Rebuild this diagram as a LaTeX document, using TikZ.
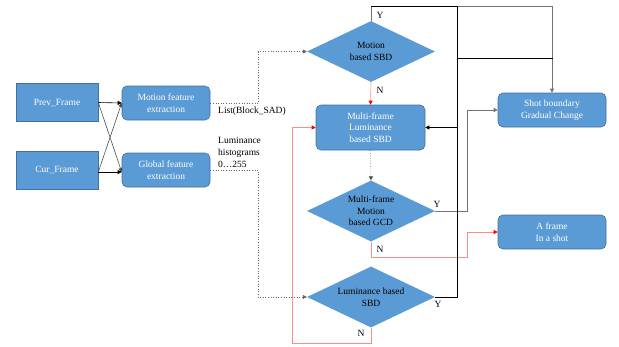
\documentclass[tikz,border=0pt]{standalone}
\usepackage{fontspec}
\setmainfont{Liberation Serif}
\usetikzlibrary{shapes.geometric,arrows.meta}
\definecolor{boxblue}{HTML}{5B9BD5}
\definecolor{boxedge}{HTML}{41719C}
\definecolor{pinkline}{HTML}{FF8A8A}
\begin{document}
\begin{tikzpicture}[x=1pt,y=-1pt,
  every node/.style={font=\fontsize{9.5}{11.5}\selectfont},
  sqbox/.style={draw=boxedge,fill=boxblue,text=white,minimum width=82pt,minimum height=38pt,inner sep=1pt,line width=0.6pt},
  rbox/.style={draw=boxedge,fill=boxblue,text=white,rounded corners=5pt,align=center,inner sep=1pt,line width=0.6pt},
  dia/.style={diamond,fill=boxblue,text=black,align=center,inner sep=0pt,minimum width=128pt,minimum height=61pt,aspect=2.1},
  lab/.style={inner sep=0pt,text=black},
  blk/.style={draw=black,line width=0.6pt},
  gry/.style={draw=black!55,line width=0.6pt},
  dots/.style={draw=black!60,dotted,line width=0.6pt},
  pnk/.style={draw=pinkline,line width=0.6pt},
  tip/.style={-{Triangle[length=4pt,width=4pt]}},
  rtip/.style={-{Triangle[length=4pt,width=4pt,color=red]}}
]
\useasboundingbox (0,0) rectangle (619,346);

% nodes
\node[sqbox] (prev) at (57,102.5) {Prev\_Frame};
\node[sqbox] (cur) at (57,170) {Cur\_Frame};
\node[rbox,minimum width=88pt,minimum height=34pt] (mfe) at (166,103) {Motion feature\\extraction};
\node[rbox,minimum width=88pt,minimum height=34pt] (gfe) at (166,170) {Global feature\\extraction};
\node[dia] (msbd) at (371,51.5) {Motion\\based SBD};
\node[rbox,minimum width=109pt,minimum height=45pt] (mfl) at (370.5,127.5) {Multi-frame\\Luminance\\based SBD};
\node[dia] (mgcd) at (371,211) {Multi-frame\\Motion\\based GCD};
\node[dia] (lsbd) at (371,297) {Luminance based\\SBD};
\node[rbox,minimum width=108pt,minimum height=34pt] (shot) at (552,110) {Shot boundary\\Gradual Change};
\node[rbox,minimum width=108pt,minimum height=34pt] (afr) at (552,232) {A frame\\In a shot};

% input crossings
\draw[blk,tip] (prev.east) -- (mfe.west);
\draw[blk,tip,draw=black!70] (prev.east) -- ([yshift=-2pt]gfe.west);
\draw[blk,tip,draw=black!70] ([yshift=-2pt]cur.east) -- (mfe.west);
\draw[blk,tip] ([yshift=-2pt]cur.east) -- ([yshift=-2pt]gfe.west);

% dotted feature lines
\draw[dots,tip] (mfe.east) -- (258,103) |- (msbd.west);
\draw[dots,tip] (gfe.east) -- (258,170) |- (lsbd.west);
\node[lab,anchor=west] (lbsad) at (218,111) {List(Block\_SAD)};
\node[lab,anchor=north west,align=left,font=\fontsize{9.5}{12}\selectfont] (lhist) at (218,137.5) {Luminance\\histograms\\0…255};

% motion SBD
\draw[gry,tip] (msbd.north) -- (371,6) -| (shot.north);
\draw[pnk,rtip] (msbd.south) -- (mfl.north);
\node[lab] (y1) at (380,15) {Y};
\node[lab] (n1) at (380,90) {N};

% multi-frame luminance to GCD
\draw[dots,tip,draw=black!70] (mfl.south) -- (mgcd.north);

% GCD
\draw[gry,tip] (mgcd.east) -- (467,211) |- (shot.west);
\draw[pnk,rtip] (mgcd.south) -- (371,257) -- (467,257) |- (afr.west);
\node[lab] (y2) at (437,204) {Y};
\node[lab] (n2) at (380,249) {N};

% luminance SBD
\draw[blk] (lsbd.east) -| (457,6) -- (371,6);
\draw[blk,tip] (457,127.5) -- (mfl.east);
\draw[blk] (457,58) -- (553,58);
\draw[pnk,rtip] (lsbd.south) |- (292,343) |- (mfl.west);
\node[lab] (y3) at (438,304) {Y};
\node[lab] (n3) at (361,333) {N};
\end{tikzpicture}
\end{document}
